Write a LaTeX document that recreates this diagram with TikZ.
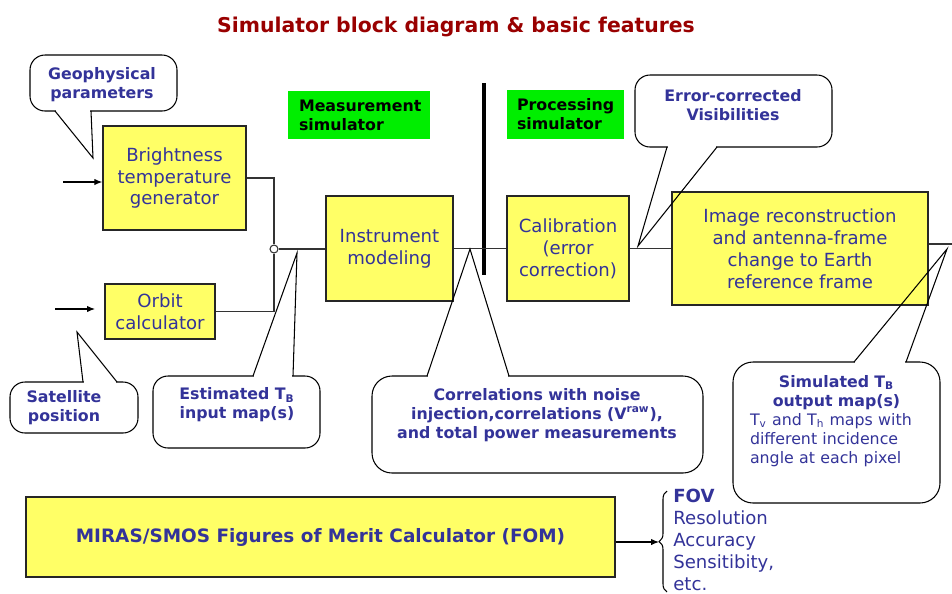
\documentclass[tikz,border=0pt]{standalone}
\usepackage{fontspec}
\setmainfont{DejaVu Sans}
\usepackage{tikz}
\usetikzlibrary{arrows.meta,decorations.pathreplacing}

\definecolor{boxyellow}{HTML}{FFFF66}
\definecolor{tagGreen}{HTML}{00EE00}
\definecolor{textblue}{HTML}{333399}
\definecolor{titlered}{HTML}{990000}

\begin{document}
\begin{tikzpicture}[x=0.02cm, y=-0.02cm,
  >={Latex[length=4.5pt,width=3.6pt]},
  block/.style={draw=black!85, line width=0.8pt, fill=boxyellow, text=textblue,
    align=center, inner sep=0pt, font=\fontsize{10.3}{12.5}\selectfont},
  tag/.style={fill=tagGreen, align=left, inner ysep=0pt,
    font=\fontsize{9}{10.8}\selectfont\bfseries},
  balloon/.style={draw, line width=0.6pt, fill=white, rounded corners=0.3cm},
  calltext/.style={text=textblue, align=center, inner sep=0pt,
    font=\fontsize{9}{10.9}\selectfont\bfseries},
  wire/.style={draw=black!80, line width=0.6pt},
  tail/.style={line width=0.6pt}]
  \useasboundingbox (0,0) rectangle (952,593);
  % Title
  \node[font=\fontsize{11.6}{14}\selectfont\bfseries, text=titlered] (title) at (456,27)
    {Simulator block diagram \& basic features};
  % Section tags
  \node[tag, text width=2.4cm, inner xsep=0.22cm, minimum height=0.96cm] (meas) at (359,115) {Measurement\\simulator};
  \node[tag, text width=1.94cm, inner xsep=0.2cm, minimum height=0.98cm] (proc) at (565.5,114.5) {Processing\\simulator};
  \draw[line width=1.8pt] (484,83) -- (484,275);
  % Blocks
  \node[block, minimum width=2.86cm, minimum height=2.08cm] (bright) at (174.5,178) {Brightness\\temperature\\generator};
  \node[block, minimum width=2.2cm, minimum height=1.1cm] (orbit) at (160,311.5) {Orbit\\calculator};
  \node[block, minimum width=2.54cm, minimum height=2.1cm] (inst) at (389.5,248.5) {Instrument\\modeling};
  \node[block, minimum width=2.44cm, minimum height=2.1cm] (calib) at (568,248.5) {Calibration\\(error\\correction)};
  \node[block, minimum width=5.12cm, minimum height=2.26cm] (img) at (800,248.5)
    {Image reconstruction\\and antenna-frame\\change to Earth\\reference frame};
  \node[block, minimum width=11.78cm, minimum height=1.6cm, font=\fontsize{10.5}{12.5}\selectfont\bfseries] (fom) at (320.5,537)
    {MIRAS/SMOS Figures of Merit Calculator (FOM)};
  % Inputs
  \coordinate (btin) at (63,182);
  \coordinate (orbin) at (55,309);
  \coordinate (orbend) at (95,309);
  \draw[->, line width=0.6pt] (btin) -- (bright.west |- btin);
  \draw[->, line width=0.6pt] (orbin) -- (orbend);
  % Signal chain
  \node[circle, draw=black!80, line width=0.6pt, fill=white, inner sep=0pt, minimum size=0.16cm] (junc) at (274,249) {};
  \draw[wire] (bright.east) -| (junc.north);
  \draw[wire] (orbit.east) -| (junc.south);
  \draw[wire] (junc.east) -- (inst.west |- junc.east);
  \draw[wire] (inst.east) -- (calib.west);
  \draw[wire] (calib.east) -- (img.west);
  \coordinate (imgout) at (952,244);
  \draw[wire] (img.east |- imgout) -- (imgout);
  % Figures of merit
  \coordinate (bracetip) at (659,542);
  \draw[->, line width=0.6pt] (fom.east |- bracetip) -- (bracetip);
  \draw[line width=0.6pt, decorate, decoration={brace, amplitude=0.16cm}] (667,592) -- (667,491);
  \node[anchor=north west, align=left, inner sep=0pt, text=textblue, font=\fontsize{10.3}{12.5}\selectfont] (fov) at (673,489)
    {\textbf{FOV}\\Resolution\\Accuracy\\Sensitibity,\\etc.};
  % Callout: geophysical parameters
  \draw[balloon] (30,55) rectangle (177,111);
  \coordinate (geotip) at (93,158);
  \fill[white] (56,109) rectangle (90,113);
  \draw[tail] (55,111) -- (geotip) -- (91,111);
  \node[calltext] (geo) at (102,85) {Geophysical\\parameters};
  % Callout: satellite position
  \draw[balloon] (10,382) rectangle (138,433);
  \coordinate (sattip) at (77,332);
  \fill[white] (84,380) rectangle (116,384);
  \draw[tail] (83,382) -- (sattip) -- (117,382);
  \node[calltext] (sat) at (64,408) {Satellite\\position};
  % Callout: estimated TB
  \draw[balloon] (153,376) rectangle (320,448);
  \coordinate (esttip) at (297,253);
  \fill[white] (254,374) rectangle (292,378);
  \draw[tail] (253,376) -- (esttip) -- (293,376);
  \node[calltext] (est) at (237,405) {Estimated T\textsubscript{B}\\input map(s)};
  % Callout: correlations
  \draw[balloon, rounded corners=0.4cm] (372,376) rectangle (703,473);
  \coordinate (corrtip) at (470,249);
  \fill[white] (428,374) rectangle (508,378);
  \draw[tail] (427,376) -- (corrtip) -- (509,376);
  \node[calltext] (corr) at (537,415)
    {Correlations with noise\\injection,correlations (V\textsuperscript{raw}),\\and total power measurements};
  % Callout: error-corrected visibilities
  \draw[balloon] (635,75) rectangle (832,147);
  \coordinate (errtip) at (638,246);
  \fill[white] (668,145) rectangle (716,149);
  \draw[tail] (667,147) -- (errtip) -- (717,147);
  \node[calltext] (errc) at (733,105) {Error-corrected\\Visibilities};
  % Callout: simulated TB output
  \draw[balloon, rounded corners=0.4cm] (733,362) rectangle (940,503);
  \coordinate (simtip) at (947,249);
  \fill[white] (855,360) rectangle (905,364);
  \draw[tail] (854,362) -- (simtip) -- (906,362);
  \node[calltext, text width=3.46cm, align=left] (simtb) at (836.5,421)
    {{\centering Simulated T\textsubscript{B}\\output map(s)\par}\mdseries
     T\textsubscript{v} and T\textsubscript{h} maps with\\different incidence\\angle at each pixel};
\end{tikzpicture}
\end{document}
